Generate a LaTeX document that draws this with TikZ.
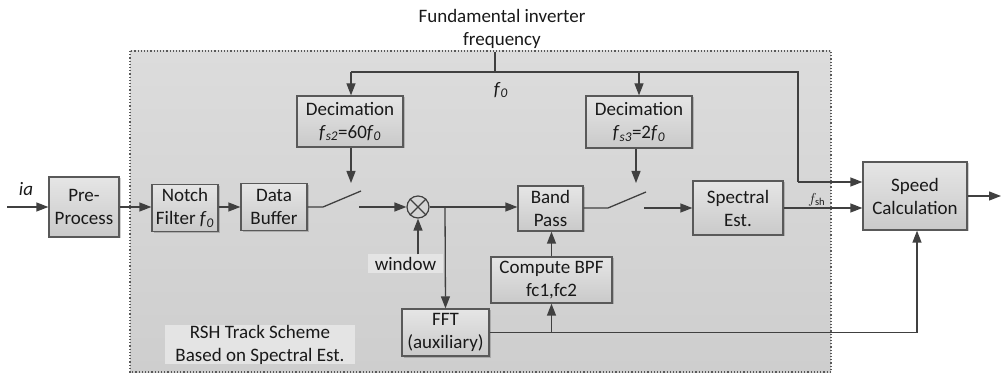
\documentclass[tikz,border=0pt]{standalone}
\usepackage{fontspec}
\setmainfont{Carlito}
\usetikzlibrary{arrows.meta,shadows}
\definecolor{lineC}{HTML}{404040}
\definecolor{boxC}{HTML}{595959}
\definecolor{areaTop}{HTML}{DCDCDC}
\definecolor{areaBot}{HTML}{CECECE}
\definecolor{tagC}{HTML}{E4E4E4}
\tikzset{
  every node/.style={font=\fontsize{19}{23}\selectfont, text=black!90},
  block/.style={draw=boxC, line width=1.3pt, top color=black!10, bottom color=black!21,
    align=center, inner sep=0pt,
    drop shadow={shadow xshift=1.5pt, shadow yshift=-1.5pt, fill=black, opacity=.18}},
  wire/.style={draw=lineC, line width=1.3pt},
  flow/.style={wire, -{Triangle[length=12pt,width=9pt]}},
  tag/.style={fill=tagC, inner sep=0pt, align=center},
}
\newcommand{\fsub}[1]{\textit{f}\textsubscript{\textit{#1}}}
\begin{document}
\begin{tikzpicture}[x=1pt,y=-1pt]
\useasboundingbox (0,0) rectangle (1002,374);

% scheme area
\path[top color=areaTop, bottom color=areaBot] (130,51) rectangle (831,372);
\draw[boxC, dotted, line width=1.2pt] (130,51) rectangle (831,372);

% labels
\node[align=center] (freq) at (502,29) {Fundamental inverter\\frequency};
\node (f0) at (501,90) {\fsub{0}};
\node (ia) at (26,189) {\textit{ia}};
\node[tag, minimum width=75pt, minimum height=19pt] (win) at (405.5,264) {window};
\node[tag, minimum width=190pt, minimum height=37pt] (rsh) at (260,344.5) {RSH Track Scheme\\Based on Spectral Est.};

% blocks
\node[block, minimum width=70pt, minimum height=60pt] (pre) at (84,207) {Pre-\\Process};
\node[block, minimum width=66pt, minimum height=47pt] (notch) at (185,208) {Notch\\Filter \fsub{0}};
\node[block, minimum width=66pt, minimum height=47pt] (buf) at (274,207) {Data\\Buffer};
\node[block, minimum width=106pt, minimum height=51pt] (dec1) at (350,121.5) {Decimation\\\fsub{s2}=60\fsub{0}};
\node[block, minimum width=106pt, minimum height=52pt] (dec2) at (639,122) {Decimation\\\fsub{s3}=2\fsub{0}};
\node[block, minimum width=65pt, minimum height=45pt] (bp) at (550.5,208.5) {Band\\Pass};
\node[block, minimum width=121pt, minimum height=46pt] (cbpf) at (551.5,280) {Compute BPF\\fc1,fc2};
\node[block, minimum width=87pt, minimum height=47pt] (fft) at (445.5,332.5) {FFT\\(auxiliary)};
\node[block, minimum width=90pt, minimum height=54pt] (spec) at (738,208) {Spectral\\Est.};
\node[block, minimum width=104pt, minimum height=68pt] (speed) at (915,196) {Speed\\Calculation};

% multiplier
\node[draw=lineC, line width=1.2pt, circle, minimum size=22pt, inner sep=0pt] (mul) at (418,207) {};
\draw[wire, line width=1.1pt] (mul.45) -- (mul.225) (mul.135) -- (mul.315);

% coordinates of junctions and switch contacts
\coordinate (in) at (7,207);
\coordinate (tap) at (495,72);
\coordinate (tl) at (351,72);
\coordinate (tr) at (798,72);
\coordinate (tc) at (798,182);
\coordinate (s1a) at (323,207);
\coordinate (s1b) at (361,191);
\coordinate (s1c) at (359,207);
\coordinate (s1t) at (351,183);
\coordinate (s2a) at (608,208);
\coordinate (s2b) at (646,192);
\coordinate (s2c) at (644,208);
\coordinate (s2t) at (636,183);
\coordinate (br) at (445,207);
\coordinate (fr) at (917,332.5);
\coordinate (out) at (1001,196);

% main signal path
\draw[flow] (in) -- (pre.west);
\draw[flow] (pre.east) -- (notch.west |- pre.east);
\draw[flow] (notch.east |- buf.west) -- (buf.west);
\draw[wire] (buf.east) -- (s1a) -- (s1b);
\draw[flow] (s1c) -- (mul.west);
\draw[flow] (mul.east) -- (bp.west |- mul.east);
\draw[flow] (br) -- (fft.north);
\draw[flow] (win.north -| mul.south) -- (mul.south);
\draw[wire] (bp.east |- s2a) -- (s2a) -- (s2b);
\draw[flow] (s2c) -- (spec.west |- s2c);
\draw[flow] (spec.east) -- node[above, pos=0.42, inner sep=1.5pt, font=\fontsize{15}{18}\selectfont] {$f_{\mathrm{sh}}$} (speed.west |- spec.east);
\draw[flow] (speed.east) -- (out);

% fundamental frequency distribution
\draw[wire] (freq.south -| tap) -- (tap);
\draw[wire] (tl) -- (tr) -- (tc);
\draw[flow] (tl) -- (dec1.north -| tl);
\draw[flow] (tap -| dec2.north) -- (dec2.north);
\draw[flow] (tc) -- (speed.west |- tc);
\draw[flow] (dec1.south -| s1t) -- (s1t);
\draw[flow] (dec2.south -| s2t) -- (s2t);

% auxiliary FFT path
\draw[flow] (cbpf.north) -- (bp.south -| cbpf.north);
\draw[wire] (fft.east) -- (fr);
\draw[flow] (fr) -- (speed.south -| fr);
\draw[flow] (cbpf.south |- fft.east) -- (cbpf.south);
\end{tikzpicture}
\end{document}
